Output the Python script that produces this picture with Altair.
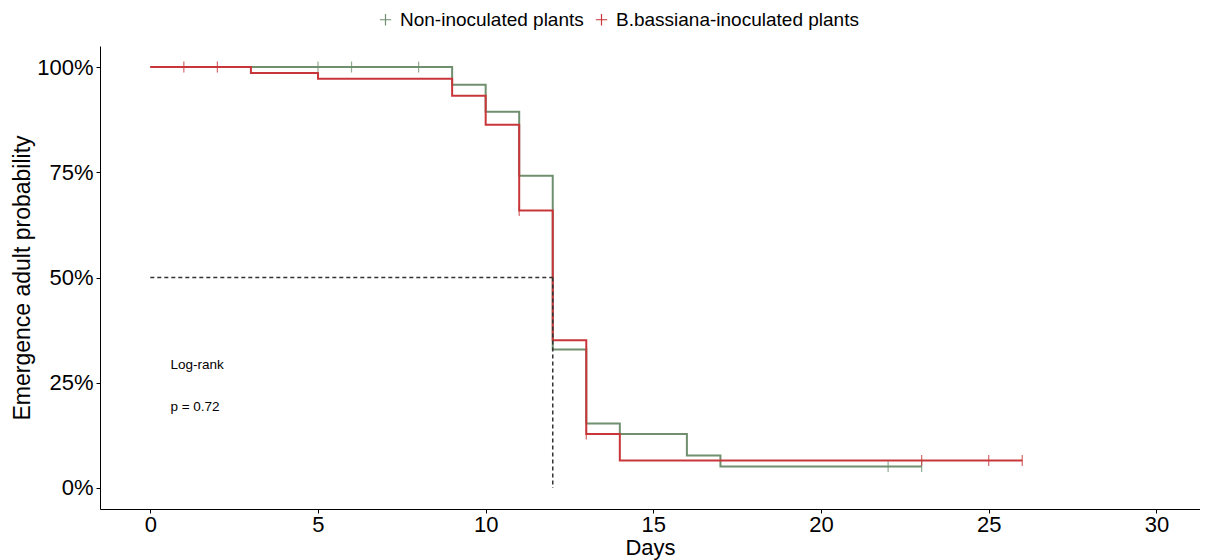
import altair as alt
import pandas as pd

groups = ["Non-inoculated plants", "B.bassiana-inoculated plants"]
colors = ["#6F8F6E", "#C8363A"]

# Kaplan-Meier step curves
green_days = [0, 9, 10, 11, 12, 13, 14, 16, 17, 23]
green_surv = [1.0, 0.958, 0.894, 0.742, 0.329, 0.153, 0.128, 0.077, 0.051, 0.051]
red_days = [0, 3, 5, 9, 10, 11, 12, 13, 14, 26]
red_surv = [1.0, 0.986, 0.972, 0.932, 0.863, 0.659, 0.351, 0.128, 0.065, 0.065]

# censor marks
green_cens_days = [5, 6, 8, 22, 23]
green_cens_surv = [1.0, 1.0, 1.0, 0.051, 0.051]
red_cens_days = [1, 2, 11, 13, 23, 25, 26]
red_cens_surv = [1.0, 1.0, 0.659, 0.128, 0.065, 0.065, 0.065]

# median lines
median_x = [0, 12]
median_y = [0.5, 0.5]
median_vx = [12, 12]
median_vy = [0.5, 0.0]

# annotation
annot_text = ["Log-rank", "p = 0.72"]
annot_x = [0.6, 0.6]
annot_y = [0.292, 0.193]

curves = pd.DataFrame({
    "day": green_days + red_days,
    "surv": green_surv + red_surv,
    "group": [groups[0]] * len(green_days) + [groups[1]] * len(red_days),
})
cens = pd.DataFrame({
    "day": green_cens_days + red_cens_days,
    "surv": green_cens_surv + red_cens_surv,
    "group": [groups[0]] * len(green_cens_days) + [groups[1]] * len(red_cens_days),
})
med_h = pd.DataFrame({"day": median_x, "surv": median_y})
med_v = pd.DataFrame({"day": median_vx, "surv": median_vy})
annot = pd.DataFrame({"t": annot_text, "day": annot_x, "surv": annot_y})

xscale = alt.Scale(domain=[-1.5, 31.3], nice=False, zero=False)
yscale = alt.Scale(domain=[-0.05, 1.05], nice=False, zero=False)
cscale = alt.Scale(domain=groups, range=colors)

xax = alt.Axis(values=[0, 5, 10, 15, 20, 25, 30], grid=False, title="Days",
               labelFontSize=22, titleFontSize=22, labelColor="#000", titleColor="#000",
               domainColor="#000", tickColor="#000", tickSize=4, labelPadding=1,
               titleFontWeight="normal", titlePadding=2, labelFlush=False)
yax = alt.Axis(values=[0, 0.25, 0.5, 0.75, 1.0], format=".0%", grid=False,
               title="Emergence adult probability",
               labelFontSize=22, titleFontSize=23, labelColor="#000", titleColor="#000",
               domainColor="#000", tickColor="#000", tickSize=4, labelPadding=3,
               titleFontWeight="normal", titlePadding=2)

plus = "M-1,0L1,0M0,-1L0,1"

lines = alt.Chart(curves).mark_line(interpolate="step-after", strokeWidth=2).encode(
    x=alt.X("day:Q", scale=xscale, axis=xax),
    y=alt.Y("surv:Q", scale=yscale, axis=yax),
    color=alt.Color("group:N", scale=cscale, sort=groups,
                    legend=alt.Legend(title=None, orient="none", direction="horizontal",
                                      legendX=276, legendY=-36, symbolType=plus,
                                      symbolSize=130, symbolStrokeWidth=1.2,
                                      labelFontSize=19, labelColor="#000", labelLimit=0,
                                      columnPadding=8, labelOffset=5)),
    detail="group:N",
    order="day:Q",
)

ticks = alt.Chart(cens).mark_point(shape="M0,-1L0,1", size=121, strokeWidth=1.2,
                                   filled=False, opacity=0.75).encode(
    x=alt.X("day:Q", scale=xscale),
    y=alt.Y("surv:Q", scale=yscale),
    color=alt.Color("group:N", scale=cscale, legend=None),
)

mh = alt.Chart(med_h).mark_line(color="#333333", strokeDash=[4, 3], strokeWidth=1.5).encode(
    x=alt.X("day:Q", scale=xscale), y=alt.Y("surv:Q", scale=yscale))
mv = alt.Chart(med_v).mark_line(color="#333333", strokeDash=[4, 3], strokeWidth=1.5).encode(
    x=alt.X("day:Q", scale=xscale), y=alt.Y("surv:Q", scale=yscale))

txt = alt.Chart(annot).mark_text(align="left", baseline="middle", fontSize=13.5,
                                 color="#000", font="Liberation Sans").encode(
    x=alt.X("day:Q", scale=xscale), y=alt.Y("surv:Q", scale=yscale), text="t:N")

chart = alt.layer(lines, ticks, mh, mv, txt).properties(
    width=1100, height=463,
    autosize=alt.AutoSizeParams(type="none"),
    padding={"left": 92, "top": 38, "right": 0, "bottom": 51},
).configure(
    font="Liberation Sans"
).configure_view(stroke=None)

chart.save("out.html", embed_options={"renderer": "svg", "actions": False})
